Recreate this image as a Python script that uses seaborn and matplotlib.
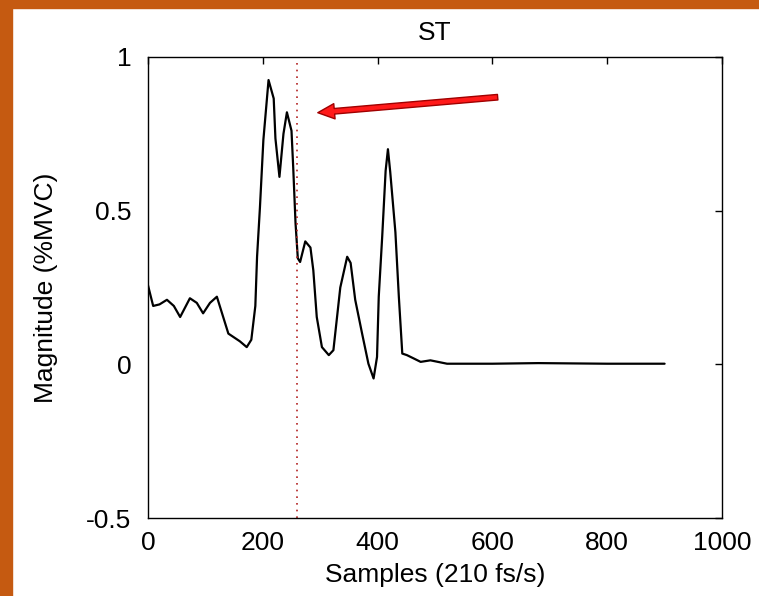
import matplotlib
matplotlib.use("Agg")
import matplotlib.pyplot as plt
import seaborn as sns
import pandas as pd
from matplotlib.patches import Rectangle

samples = [0, 9, 20, 33, 45, 56, 73, 85, 96, 108, 120, 140, 160, 172, 180, 187, 190, 195, 201,
           210, 219, 222, 229, 236, 242, 250, 253, 257, 261, 265, 274, 283, 288, 294, 303,
           315, 323, 335, 347, 353, 361, 373, 384, 393, 399, 402, 408, 414, 418, 422, 431,
           437, 443, 451, 462, 475, 492, 521, 600, 680, 740, 800, 900]
magnitude = [0.257, 0.19, 0.195, 0.21, 0.19, 0.154, 0.215, 0.20, 0.166, 0.20, 0.22, 0.10,
             0.075, 0.056, 0.08, 0.19, 0.35, 0.51, 0.73, 0.925, 0.865, 0.735, 0.61, 0.75,
             0.82, 0.76, 0.64, 0.46, 0.345, 0.333, 0.40, 0.38, 0.306, 0.154, 0.056, 0.03,
             0.046, 0.25, 0.35, 0.33, 0.21, 0.10, 0.002, -0.046, 0.024, 0.22, 0.415, 0.63,
             0.70, 0.626, 0.43, 0.22, 0.035, 0.03, 0.02, 0.008, 0.013, 0.002, 0.002, 0.004,
             0.003, 0.002, 0.002]
marker_x = 260
arrow_start = (614, 0.87)
arrow_end = (291, 0.818)
x_ticks = [0, 200, 400, 600, 800, 1000]
y_ticks = [-0.5, 0, 0.5, 1]
y_tick_labels = ["-0.5", "0", "0.5", "1"]

df = pd.DataFrame({"Samples": samples, "Magnitude": magnitude})

sns.set_style("white")
plt.rcParams["font.family"] = ["Liberation Sans", "DejaVu Sans"]
plt.rcParams["text.color"] = "black"
plt.rcParams["axes.labelcolor"] = "black"

fig = plt.figure(figsize=(7.59, 5.96), dpi=100)
fig.patch.set_facecolor("white")
border = "#C55A11"
fig.patches.append(Rectangle((0, 0), 12 / 759, 1, transform=fig.transFigure, color=border, zorder=0))
fig.patches.append(Rectangle((0, 1 - 8 / 596), 1, 8 / 596, transform=fig.transFigure, color=border, zorder=0))

ax = fig.add_axes([148 / 759, 1 - 518 / 596, (722 - 148) / 759, (518 - 57) / 596])
sns.lineplot(data=df, x="Samples", y="Magnitude", ax=ax, color="black", linewidth=1.6)
ax.axvline(marker_x, color="#B22222", linestyle=(0, (1, 3)), linewidth=1.2)

ax.annotate("", xy=arrow_end, xytext=arrow_start,
            arrowprops=dict(arrowstyle="simple,head_length=1.2,head_width=1.1,tail_width=0.4",
                            facecolor="#FF1A1A", edgecolor="#A00000", linewidth=1))

ax.set_xlim(0, 1000)
ax.set_ylim(-0.5, 1)
ax.set_xticks(x_ticks)
ax.set_yticks(y_ticks)
ax.set_yticklabels(y_tick_labels)
ax.tick_params(direction="in", length=5, width=1, top=True, right=True, labelsize=19, colors="black")
ax.tick_params(axis="y", pad=12)
ax.tick_params(axis="x", pad=9)
for s in ax.spines.values():
    s.set_color("black")
    s.set_linewidth(1)
ax.set_title("ST", fontsize=19, pad=12, color="black")
ax.set_xlabel("Samples (210 fs/s)", fontsize=19, labelpad=6, color="black")
ax.set_ylabel("Magnitude (%MVC)", fontsize=19, labelpad=20, color="black")

fig.savefig("out.png", dpi=100)
